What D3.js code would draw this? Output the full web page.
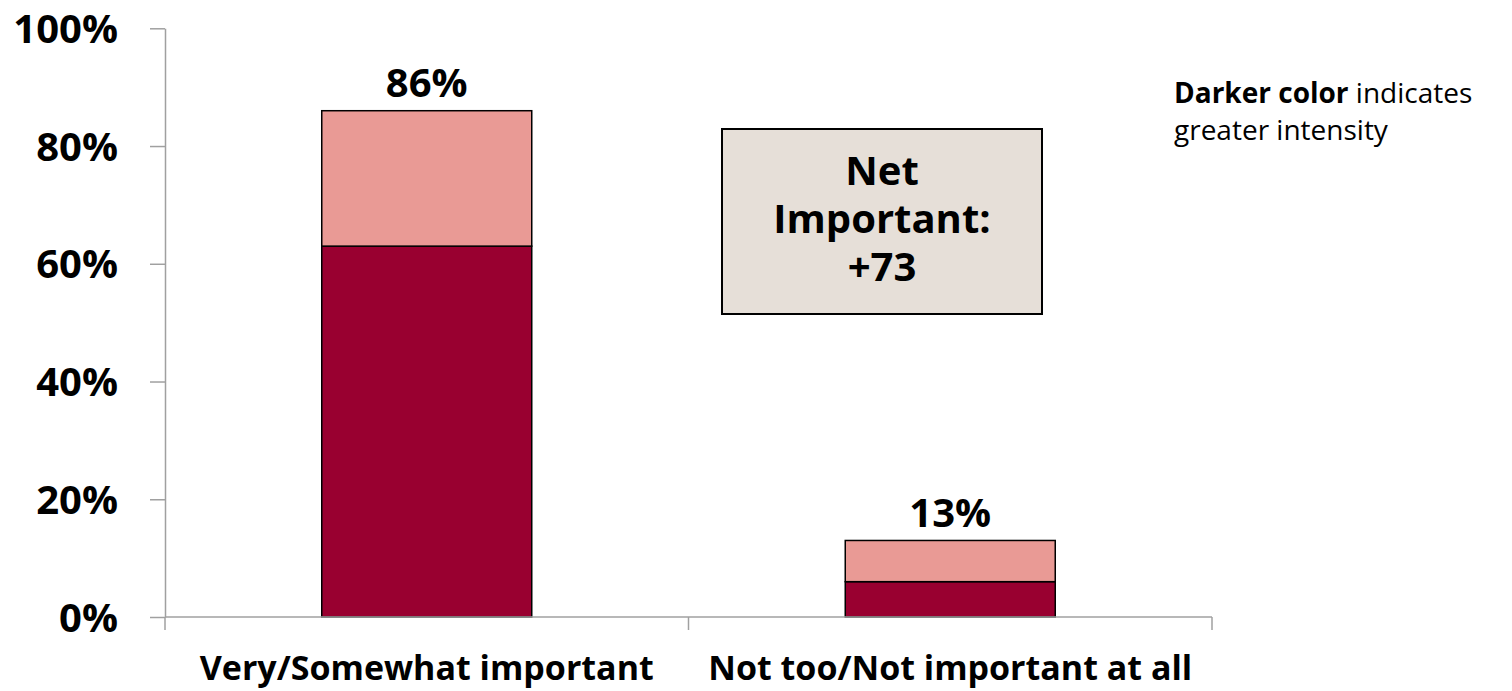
<!DOCTYPE html>
<html>
<head>
<meta charset="utf-8">
<script src="https://cdn.jsdelivr.net/npm/d3@7"></script>
<style>
  html, body { margin: 0; padding: 0; background: #fff; }
  svg { display: block; }
  text { font-family: "Open Sans", "Noto Sans", sans-serif; }
</style>
</head>
<body>
<svg id="chart" width="1512" height="691"></svg>
<script>
// Survey result: importance, split into the intense ("Very"/"Not at all") share and the total share
const categories = ["Very/Somewhat important", "Not too/Not important at all"];
const intenseShare = [63, 6];   // darker segment
const totalShare = [86, 13];    // full bar height, labelled above
const yTicks = [0, 20, 40, 60, 80, 100];

const colors = { intense: "#990030", mild: "#E99A95", box: "#E6DFD8", axis: "#A0A0A0" };

const svg = d3.select("#chart");
const plot = { left: 165, right: 1212, top: 28.3, bottom: 617 };

const x = d3.scaleBand()
  .domain(categories)
  .range([plot.left, plot.right])
  .paddingInner(0)
  .paddingOuter(0);

const y = d3.scaleLinear().domain([0, 100]).range([plot.bottom, plot.top]);

const barW = 210;
const barX = c => x(c) + (x.bandwidth() - barW) / 2;

// Stacked segments: intense on the bottom, the remainder above
const segs = [];
categories.forEach((c, i) => {
  segs.push({ c, y0: 0, y1: intenseShare[i], fill: colors.intense });
  segs.push({ c, y0: intenseShare[i], y1: totalShare[i], fill: colors.mild });
});

svg.append("g").selectAll("rect")
  .data(segs)
  .join("rect")
  .attr("x", d => barX(d.c))
  .attr("width", barW)
  .attr("y", d => y(d.y1))
  .attr("height", d => y(d.y0) - y(d.y1))
  .attr("fill", d => d.fill)
  .attr("stroke", "#000")
  .attr("stroke-width", 1.5);

// Y axis
const yAxis = svg.append("g")
  .attr("transform", `translate(${plot.left},0)`)
  .call(d3.axisLeft(y).tickValues(yTicks).tickFormat(d => d + "%").tickSize(15).tickSizeOuter(0).tickPadding(32));
yAxis.select(".domain").attr("stroke", colors.axis).attr("stroke-width", 1.5);
yAxis.selectAll(".tick line").attr("stroke", colors.axis).attr("stroke-width", 1.5);
yAxis.selectAll(".tick text")
  .attr("fill", "#000")
  .attr("font-size", 40)
  .attr("font-weight", 700)
  .attr("dy", "0.35em");

// X axis: baseline with ticks at the category boundaries
const xAxisG = svg.append("g");
xAxisG.append("line")
  .attr("x1", plot.left).attr("x2", plot.right)
  .attr("y1", y(0)).attr("y2", y(0))
  .attr("stroke", colors.axis).attr("stroke-width", 1.5);
const bounds = categories.map(c => x(c)).concat([x(categories[categories.length - 1]) + x.bandwidth()]);
xAxisG.selectAll("line.tick")
  .data(bounds)
  .join("line")
  .attr("class", "tick")
  .attr("x1", d => d).attr("x2", d => d)
  .attr("y1", y(0)).attr("y2", y(0) + 13)
  .attr("stroke", colors.axis).attr("stroke-width", 1.5);
xAxisG.selectAll("text.cat")
  .data(categories)
  .join("text")
  .attr("class", "cat")
  .attr("x", d => x(d) + x.bandwidth() / 2)
  .attr("y", 680)
  .attr("text-anchor", "middle")
  .attr("font-size", 34)
  .attr("font-weight", 700)
  .attr("fill", "#000")
  .text(d => d);

// Total labels above the bars
svg.append("g").selectAll("text")
  .data(categories)
  .join("text")
  .attr("x", d => barX(d) + barW / 2)
  .attr("y", (d, i) => y(totalShare[i]) - 13.5)
  .attr("text-anchor", "middle")
  .attr("font-size", 40)
  .attr("font-weight", 700)
  .attr("fill", "#000")
  .text((d, i) => totalShare[i] + "%");

// Net callout box: one text block, three centred lines
const net = totalShare[0] - totalShare[1];
const box = svg.append("g");
box.append("rect")
  .attr("x", 722).attr("y", 129)
  .attr("width", 320).attr("height", 185)
  .attr("fill", colors.box)
  .attr("stroke", "#000").attr("stroke-width", 2);
const netText = box.append("text")
  .attr("x", 882)
  .attr("y", 185)
  .attr("text-anchor", "middle")
  .attr("font-size", 40)
  .attr("font-weight", 700)
  .attr("fill", "#000");
["Net", "Important:", "+" + net].forEach((t, i) => {
  netText.append("tspan")
    .attr("x", 882)
    .attr("dy", i === 0 ? 0 : 48)
    .text(t);
});

// Note about shading
const note = svg.append("text")
  .attr("x", 1174).attr("y", 103)
  .attr("font-size", 28)
  .attr("fill", "#000");
note.append("tspan").attr("font-weight", 700).text("Darker color");
note.append("tspan").text(" indicates");
note.append("tspan").attr("x", 1174).attr("dy", 37).text("greater intensity");
</script>
</body>
</html>
